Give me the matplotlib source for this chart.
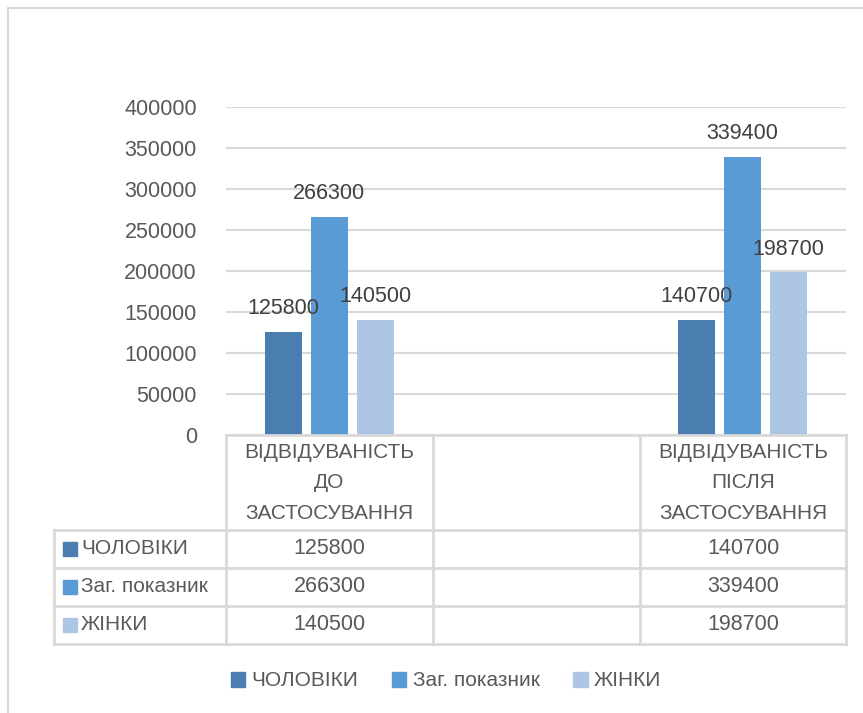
import matplotlib.pyplot as plt
from matplotlib.lines import Line2D
from matplotlib.patches import Rectangle

plt.rcParams['font.family'] = ['Liberation Sans', 'DejaVu Sans']

# Data
categories = ['ВІДВІДУВАНІСТЬ\nДО\nЗАСТОСУВАННЯ', '', 'ВІДВІДУВАНІСТЬ\nПІСЛЯ\nЗАСТОСУВАННЯ']
series_names = ['ЧОЛОВІКИ', 'Заг. показник', 'ЖІНКИ']
men = [125800, None, 140700]
total = [266300, None, 339400]
women = [140500, None, 198700]
series = [men, total, women]
colors = ['#4a7eb0', '#5b9bd5', '#aec6e6']
yticks = [0, 50000, 100000, 150000, 200000, 250000, 300000, 350000, 400000]

W, H = 863, 713
fig = plt.figure(figsize=(W / 100, H / 100), dpi=100)

def fx(px):
    return px / W

def fy(py):
    return 1 - py / H

grey = '#d9d9d9'
txt = '#595959'

# outer chart border (left and top only visible)
fig.add_artist(Line2D([fx(8), fx(8)], [fy(8), fy(713)], color=grey, lw=1.5))
fig.add_artist(Line2D([fx(8), fx(863)], [fy(8), fy(8)], color=grey, lw=1.5))

# plot area
left, right, top, bottom = 226, 846, 107, 435
ax = fig.add_axes([fx(left), fy(bottom), fx(right) - fx(left), fy(top) - fy(bottom)])
ax.set_xlim(-0.5, len(categories) - 0.5)
ax.set_ylim(0, 400000)
ax.set_yticks(yticks)
ax.set_yticklabels([str(v) for v in yticks], fontsize=15.5, color=txt)
ax.tick_params(axis='y', length=0, pad=21)
ax.set_xticks([])
for s in ax.spines.values():
    s.set_visible(False)
ax.grid(axis='y', color=grey, lw=1.5)
ax.set_axisbelow(True)

width = 0.179
offsets = [-0.222, 0, 0.222]
for vals, off, c in zip(series, offsets, colors):
    for i, v in enumerate(vals):
        if v is None:
            continue
        ax.bar(i + off, v, width=width, color=c)
        ax.annotate(str(v), (i + off, v), xytext=(0, 9), textcoords='offset points',
                    ha='center', va='bottom', fontsize=15.5, color='#404040')

# data table
col_edges = [226, 433, 640, 846]
row_edges = [435, 530, 568, 606, 644]
tleft = 54
lw_t = 2
fig.add_artist(Line2D([fx(226), fx(846)], [fy(435), fy(435)], color=grey, lw=lw_t))
for r in row_edges[1:]:
    fig.add_artist(Line2D([fx(tleft), fx(846)], [fy(r), fy(r)], color=grey, lw=lw_t))
fig.add_artist(Line2D([fx(tleft), fx(tleft)], [fy(530), fy(644)], color=grey, lw=lw_t))
for c in col_edges:
    fig.add_artist(Line2D([fx(c), fx(c)], [fy(435), fy(644)], color=grey, lw=lw_t))

for j, cat in enumerate(categories):
    cx = (col_edges[j] + col_edges[j + 1]) / 2
    fig.text(fx(cx), fy(483), cat, ha='center', va='center', fontsize=15,
             color=txt, linespacing=1.75)

for k, (name, vals, c) in enumerate(zip(series_names, series, colors)):
    cy = (row_edges[k + 1] + row_edges[k + 2]) / 2
    fig.add_artist(Rectangle((fx(63), fy(cy + 7)), fx(14), 14 / H, color=c))
    fig.text(fx(81), fy(cy), name, ha='left', va='center', fontsize=15, color=txt)
    for j, v in enumerate(vals):
        if v is None:
            continue
        cx = (col_edges[j] + col_edges[j + 1]) / 2
        fig.text(fx(cx), fy(cy), str(v), ha='center', va='center', fontsize=15.5, color=txt)

# legend
handles = [Rectangle((0, 0), 1, 1, color=c) for c in colors]
fig.legend(handles, series_names, loc='center', bbox_to_anchor=(fx(446), fy(681)),
           ncol=3, frameon=False, fontsize=15, handlelength=0.7, handleheight=0.7,
           handletextpad=0.3, columnspacing=1.6, labelcolor=txt)

fig.savefig('out.png', dpi=100)
plt.close(fig)
